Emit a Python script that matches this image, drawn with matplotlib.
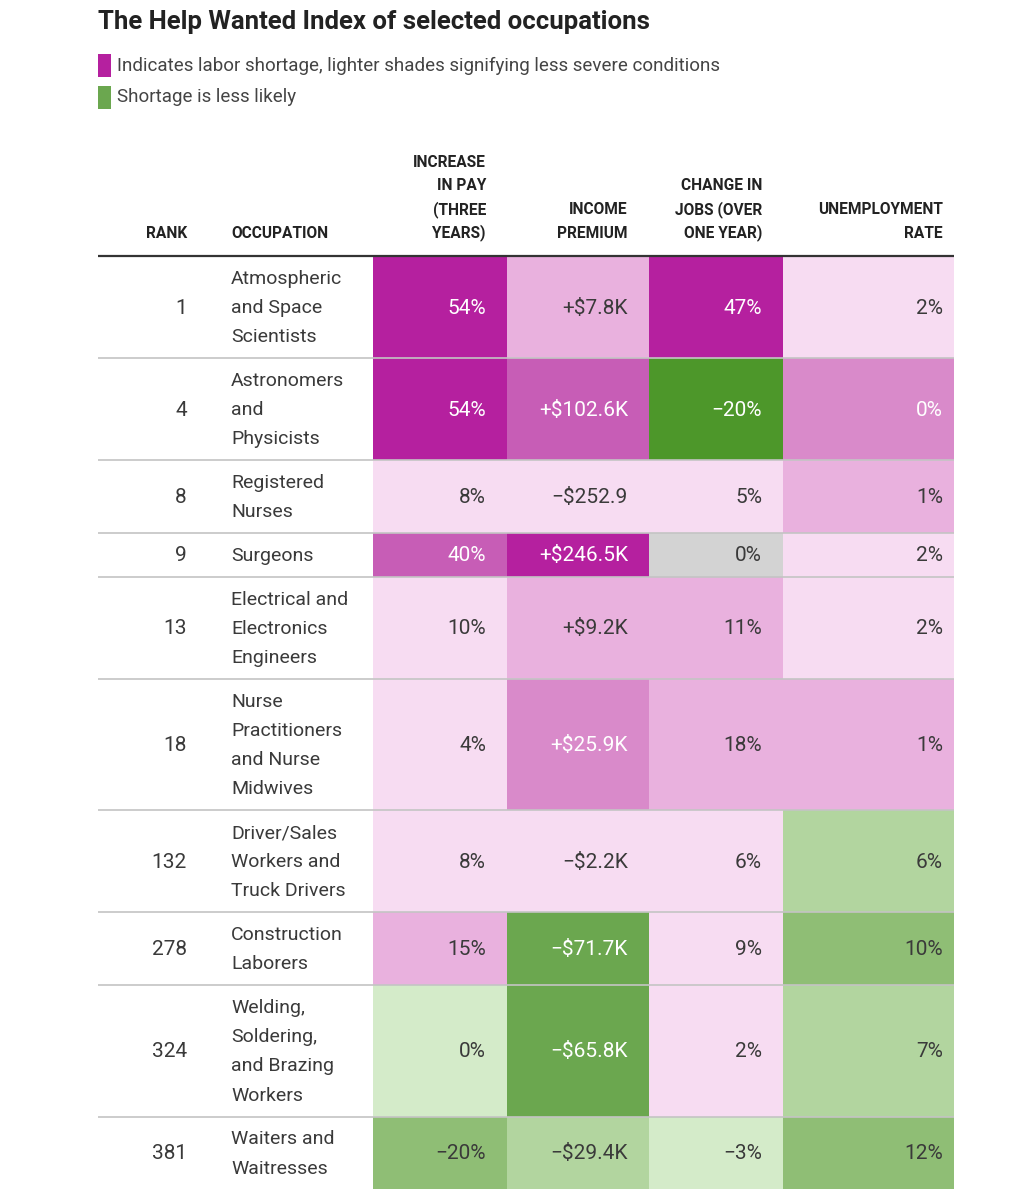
import matplotlib
matplotlib.use("Agg")
import matplotlib.pyplot as plt
from matplotlib.patches import Rectangle

# ---------------- data ----------------
title = "The Help Wanted Index of selected occupations"
legend_labels = ["Indicates labor shortage, lighter shades signifying less severe conditions",
                 "Shortage is less likely"]
headers = [["RANK"], ["OCCUPATION"], ["INCREASE", "IN PAY", "(THREE", "YEARS)"],
           ["INCOME", "PREMIUM"], ["CHANGE IN", "JOBS (OVER", "ONE YEAR)"],
           ["UNEMPLOYMENT", "RATE"]]
ranks = [1, 4, 8, 9, 13, 18, 132, 278, 324, 381]
occupations = [
    ["Atmospheric", "and Space", "Scientists"],
    ["Astronomers", "and", "Physicists"],
    ["Registered", "Nurses"],
    ["Surgeons"],
    ["Electrical and", "Electronics", "Engineers"],
    ["Nurse", "Practitioners", "and Nurse", "Midwives"],
    ["Driver/Sales", "Workers and", "Truck Drivers"],
    ["Construction", "Laborers"],
    ["Welding,", "Soldering,", "and Brazing", "Workers"],
    ["Waiters and", "Waitresses"],
]
pay_increase = ["54%", "54%", "8%", "40%", "10%", "4%", "8%", "15%", "0%", "\u221220%"]
income_premium = ["+$7.8K", "+$102.6K", "\u2212$252.9", "+$246.5K", "+$9.2K", "+$25.9K",
                  "\u2212$2.2K", "\u2212$71.7K", "\u2212$65.8K", "\u2212$29.4K"]
job_change = ["47%", "\u221220%", "5%", "0%", "11%", "18%", "6%", "9%", "2%", "\u22123%"]
unemployment = ["2%", "0%", "1%", "2%", "2%", "1%", "6%", "10%", "7%", "12%"]

# shade level of each cell (M = shortage magenta, G = green, N = neutral)
pay_shade = ["M4", "M4", "M0", "M3", "M0", "M0", "M0", "M1", "G0", "G2"]
income_shade = ["M1", "M3", "M0", "M4", "M1", "M2", "M0", "G3", "G3", "G1"]
jobs_shade = ["M4", "G4", "M0", "N", "M1", "M1", "M0", "M0", "M0", "G0"]
unemp_shade = ["M0", "M2", "M1", "M0", "M0", "M1", "G1", "G2", "G1", "G2"]

# ---------------- style ----------------
palette = {
    "M4": "#b5209f", "M3": "#c75db6", "M2": "#d98aca", "M1": "#e9b1de", "M0": "#f7dcf2",
    "N": "#d3d3d3",
    "G4": "#4d972a", "G3": "#6ba74f", "G2": "#8fbe75", "G1": "#b2d59f", "G0": "#d4ebc9",
}
white_text = {"M4", "M3", "M2", "G4", "G3"}
dark = "#222222"
body_col = "#3a3a3a"

body_font = ["Roboto", "DejaVu Sans"]
head_font = ["Roboto", "DejaVu Sans"]

W, H = 1025, 1200
fig = plt.figure(figsize=(W / 100, H / 100), dpi=100)
ax = fig.add_axes([0, 0, 1, 1])
ax.set_xlim(0, W)
ax.set_ylim(H, 0)
ax.axis("off")

left = 98
right = 954
col_edges = [373, 507, 649, 783, 954]
rank_x = 187
occ_x = 231
line_h = 29.2
pad = 14.5

# title & legend
ax.text(left, 22, title, fontsize=18.5, fontweight="bold", family=body_font,
        color=dark, va="center", ha="left")
for i, (lab, c) in enumerate(zip(legend_labels, ["M4", "G3"])):
    y0 = 54 + i * 32
    ax.add_patch(Rectangle((left, y0), 13, 23, color=palette[c], lw=0))
    ax.text(117, y0 + 11.5, lab, fontsize=13.5, family=body_font, color="#444444",
            va="center", ha="left")

# header
head_bottom = 233
head_step = 23.5
head_x = [(rank_x, "right"), (occ_x, "left"), (col_edges[1] - 21, "right"),
          (col_edges[2] - 21, "right"), (col_edges[3] - 21, "right"),
          (col_edges[4] - 11, "right")]
for lines, (hx, ha) in zip(headers, head_x):
    k = len(lines)
    for i, t in enumerate(lines):
        ax.text(hx, head_bottom - (k - 1 - i) * head_step, t, fontsize=11.2,
                fontweight="bold", family=head_font, color=dark, va="center", ha=ha)

# rows
y = 256
row_tops = []
for occ in occupations:
    h = pad + line_h * len(occ)
    row_tops.append((y, h))
    y += h

value_cols = [pay_increase, income_premium, job_change, unemployment]
shade_cols = [pay_shade, income_shade, jobs_shade, unemp_shade]
text_right = [col_edges[1] - 21, col_edges[2] - 21, col_edges[3] - 21, col_edges[4] - 11]

for r, (top, h) in enumerate(row_tops):
    cy = top + h / 2 + 1
    for c in range(4):
        shade = shade_cols[c][r]
        ax.add_patch(Rectangle((col_edges[c], top), col_edges[c + 1] - col_edges[c], h,
                               color=palette[shade], lw=0, zorder=1))
        ax.text(text_right[c], cy, value_cols[c][r], fontsize=15, family=body_font,
                color="white" if shade in white_text else body_col,
                va="center", ha="right", zorder=3)
    ax.text(rank_x, cy, str(ranks[r]), fontsize=15, family=body_font, color=body_col,
            va="center", ha="right", zorder=3)
    n = len(occupations[r])
    for i, t in enumerate(occupations[r]):
        ax.text(occ_x, cy + (i - (n - 1) / 2) * line_h, t, fontsize=14, family=body_font,
                color=body_col, va="center", ha="left", zorder=3)
    if r > 0:
        ax.plot([left, right], [top, top], color="#c4c4c4", lw=1.2, zorder=2,
                solid_capstyle="butt")

ax.plot([left, right], [256, 256], color="#333333", lw=1.6, zorder=4, solid_capstyle="butt")

fig.savefig("out.png", dpi=100, facecolor="white")
